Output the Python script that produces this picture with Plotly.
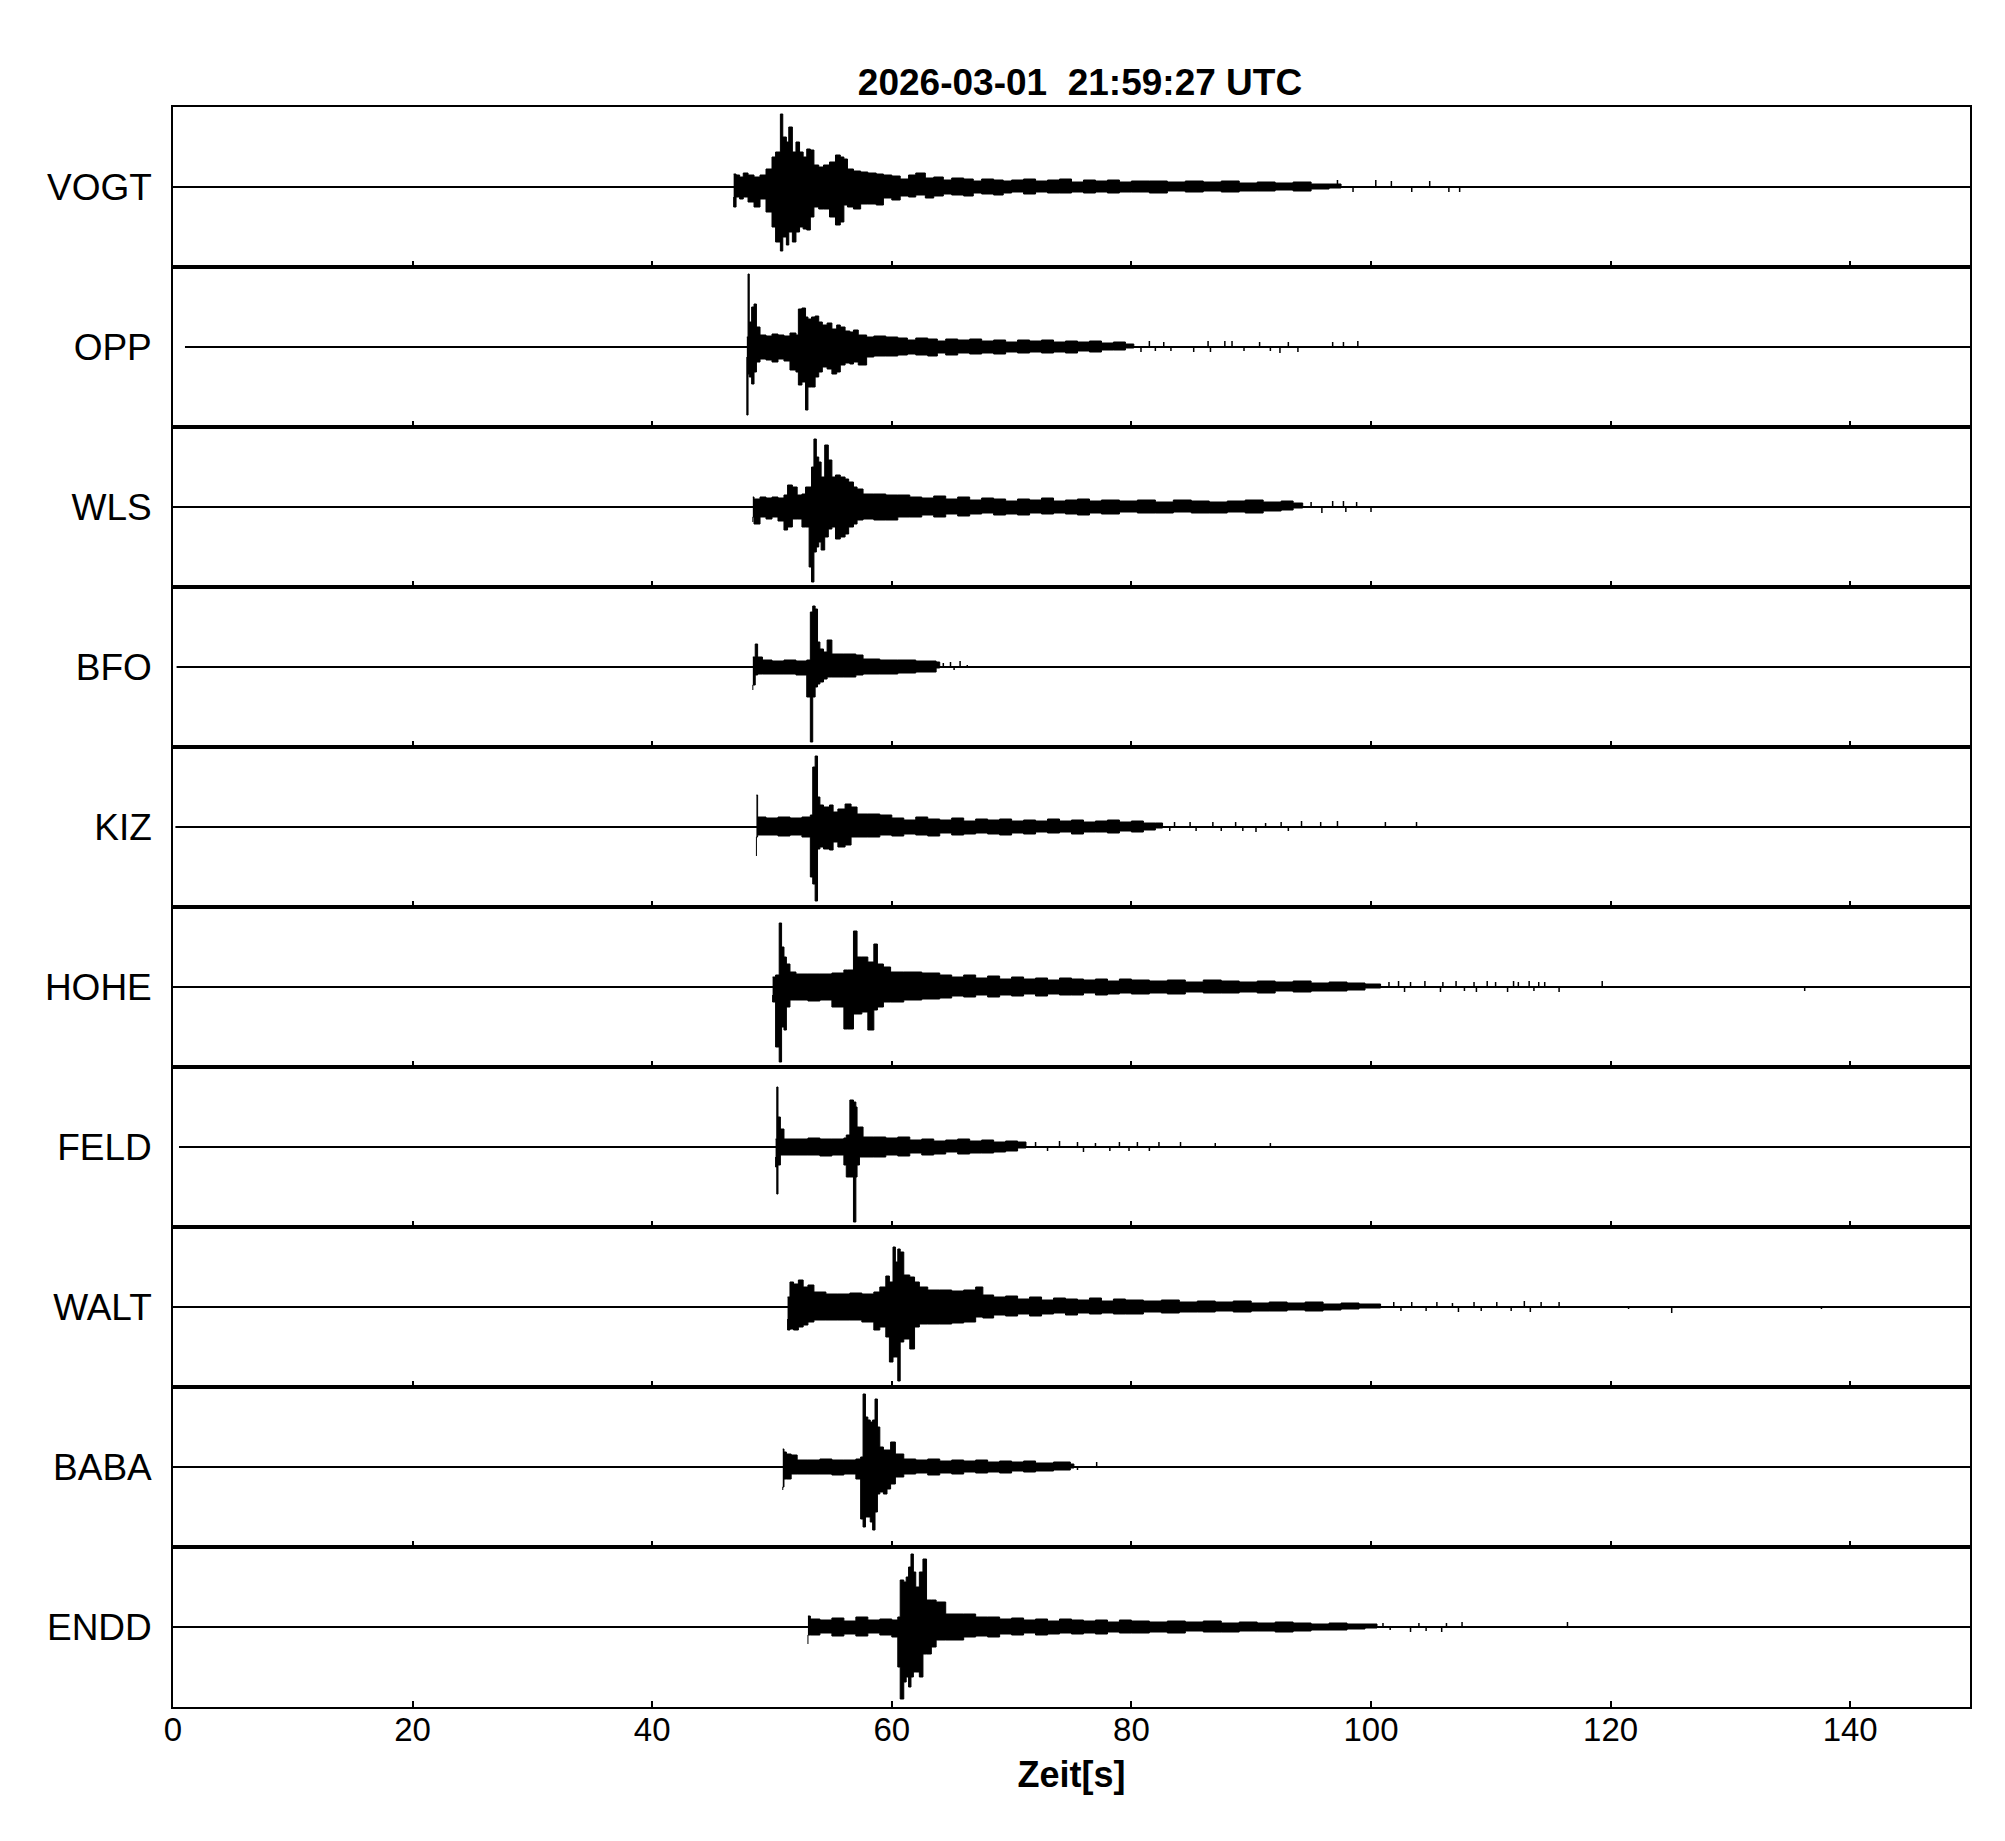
import plotly.graph_objects as go
from plotly.subplots import make_subplots

# ---------------- data (amplitudes in plot units, panel range is -80..80) -------------
STATIONS = ["VOGT", "OPP", "WLS", "BFO", "KIZ", "HOHE", "FELD", "WALT", "BABA", "ENDD"]
TRACE_START = [0.0, 1.0, 0.0, 0.3, 0.2, 0.0, 0.5, 0.0, 0.0, 0.0]
TRACE_END = 150.0
X_TICKS = [0, 20, 40, 60, 80, 100, 120, 140]
TITLE = "2026-03-01\u00a0\u00a021:59:27 UTC"
X_TITLE = "Zeit[s]"

VOGT_T = [46.8, 47.0, 47.3, 47.6, 48.0, 48.5, 49.0, 49.5, 50.0, 50.3, 50.7, 50.9, 51.2, 51.4, 51.7, 52.0, 52.3, 52.6, 52.9, 53.2,
          53.5, 53.9, 54.3, 54.8, 55.3, 55.7, 56.0, 56.3, 56.8, 57.4, 58.0, 58.7, 59.3,
          60.0, 60.7, 61.4, 62.0, 62.8, 63.5, 64.3, 65.0, 66.0, 66.8, 67.5, 68.5, 69.3, 70.0, 71.0, 72.0, 73.0, 74.0, 75.0, 76.0,
          77.0, 78.0, 79.0, 80.0, 81.5, 83.0, 84.5, 86.0, 87.5, 89.0, 90.5, 92.0, 93.5, 95.0, 96.5, 97.5]
VOGT_UP = [13, 12, 10, 14, 12, 10, 12, 18, 30, 35, 73, 50, 45, 60, 35, 45, 35, 30, 38, 37,
           22, 20, 22, 25, 32, 30, 28, 18, 16, 15, 14, 13, 12,
           11, 8, 12, 14, 9, 10, 7, 9, 8, 6, 8, 7, 6, 7, 8, 6, 7, 8, 5, 7,
           6, 7, 5, 6, 6, 5, 6, 5, 6, 4, 5, 4, 5, 3, 3, 1]
VOGT_LO = [10, 20, 10, 12, 10, 15, 20, 12, 25, 40, 55, 64, 50, 58, 45, 55, 45, 40, 42, 43,
           30, 20, 22, 22, 30, 38, 35, 18, 20, 22, 17, 17, 18,
           11, 13, 9, 10, 8, 11, 9, 7, 8, 9, 6, 7, 8, 6, 5, 7, 5, 6, 6, 5,
           6, 5, 6, 5, 5, 6, 4, 5, 4, 5, 4, 4, 3, 4, 2, 1]
VOGT_SPK_T = [97.2, 98.5, 100.4, 101.7, 103.4, 104.9, 106.5, 107.4]
VOGT_SPK_A = [7, -5, 7, 6, -5, 6, -5, -5]

OPP_T = [47.9, 48.0, 48.1, 48.3, 48.5, 48.7, 49.0, 49.5, 50.0, 50.5, 51.0, 51.5, 52.0, 52.2, 52.5, 52.8, 53.0, 53.3, 53.6, 53.9,
         54.2, 54.6, 55.0, 55.4, 55.7, 56.1, 56.5, 56.8, 57.2, 57.9, 58.5, 59.5,
         60.5, 61.3, 62.0, 63.0, 63.8, 64.5, 65.5, 66.5, 67.5, 68.5, 69.5, 70.5, 71.5, 72.5, 73.5, 74.5, 75.5, 76.5, 77.5, 78.5,
         79.5, 80.2]
OPP_UP = [10, 73, 25, 40, 43, 20, 12, 11, 13, 12, 11, 14, 12, 38, 39, 30, 28, 30, 31, 25,
          22, 24, 18, 22, 20, 16, 15, 17, 12, 10, 11, 10,
          9, 7, 9, 8, 6, 8, 7, 8, 6, 7, 5, 7, 6, 7, 5, 6, 5, 6, 4, 5, 3, 1]
OPP_LO = [10, 68, 27, 30, 37, 25, 15, 12, 13, 15, 12, 14, 23, 25, 38, 35, 63, 40, 40, 30,
          25, 20, 22, 27, 25, 18, 16, 17, 15, 18, 10, 9,
          9, 8, 7, 8, 9, 6, 8, 6, 7, 6, 7, 5, 6, 5, 6, 5, 6, 4, 5, 3, 3, 1]
OPP_SPK_T = [80.8, 81.5, 82.0, 82.7, 83.3, 85.2, 86.4, 86.6, 87.8, 88.4, 89.4, 90.7, 91.6, 92.4, 93.1, 93.9, 96.8, 97.7, 98.9]
OPP_SPK_A = [-5, 6, -4, 5, -4, -5, 6, -5, 6, 6, -4, 5, -4, -6, 5, -5, 5, 5, 6]

WLS_T = [48.4, 48.5, 49.0, 49.5, 50.0, 50.5, 51.0, 51.3, 51.7, 52.1, 52.5, 52.8, 53.1, 53.3, 53.5, 53.7, 53.9, 54.1, 54.4, 54.7,
         55.0, 55.3, 55.7, 56.1, 56.4, 56.8, 57.1, 57.6, 58.5, 59.5, 60.5, 61.5,
         62.5, 63.5, 64.5, 65.5, 66.5, 67.5, 68.5, 69.5, 70.5, 71.5, 72.5, 73.5, 74.5, 75.5, 76.5, 77.5, 79.0, 80.5, 82.0, 83.5,
         85.0, 86.5, 88.0, 89.5, 91.0, 92.5, 93.5, 94.3]
WLS_UP = [10, 8, 10, 9, 10, 9, 12, 22, 20, 12, 13, 20, 20, 40, 68, 50, 45, 30, 62, 47,
          30, 32, 30, 28, 25, 20, 18, 13, 13, 12, 12, 10,
          9, 11, 8, 10, 7, 9, 8, 6, 8, 7, 9, 6, 7, 8, 6, 7, 6, 7, 5, 7, 6, 5, 6, 7, 5, 6, 4, 1]
WLS_LO = [15, 10, 17, 10, 12, 10, 14, 23, 20, 12, 12, 20, 20, 60, 75, 45, 40, 35, 43, 30,
          22, 20, 32, 30, 27, 20, 17, 13, 12, 13, 13, 10,
          10, 8, 10, 7, 9, 7, 6, 8, 7, 8, 6, 7, 6, 7, 8, 6, 7, 5, 6, 6, 5, 6, 6, 5, 6, 4, 3, 1]
WLS_SPK_T = [95.0, 95.9, 96.8, 97.7, 97.9, 98.8, 100.0]
WLS_SPK_A = [5, -6, 6, 6, -5, 5, -5]

BFO_T = [48.4, 48.6, 48.8, 49.2, 50.0, 51.0, 52.0, 52.9, 53.2, 53.4, 53.6, 53.8, 54.0, 54.3, 54.6, 55.0, 56.0, 57.0, 57.6, 59.0,
         60.5, 62.0, 63.7, 64.0]
BFO_UP = [10, 23, 10, 7, 6, 7, 6, 7, 55, 61, 58, 25, 18, 15, 27, 13, 13, 12, 8, 7, 7, 6, 5, 1]
BFO_LO = [23, 18, 8, 7, 7, 7, 7, 8, 30, 75, 30, 20, 17, 15, 12, 10, 10, 10, 8, 7, 7, 6, 5, 1]
BFO_SPK_T = [64.3, 64.9, 65.2, 65.7, 66.3]
BFO_SPK_A = [4, 5, -3, 6, 2]

KIZ_T = [48.7, 48.8, 49.0, 49.5, 50.5, 51.5, 52.5, 53.2, 53.4, 53.6, 53.8, 54.0, 54.3, 54.8, 55.1, 55.5, 56.1, 56.6, 57.1, 58.0,
         59.0, 60.0, 61.0, 62.0, 63.0, 64.0, 65.0, 66.0, 67.0, 68.0, 69.0, 70.0, 71.0, 72.0, 73.0, 74.0, 75.0, 76.0, 77.0,
         78.0, 79.0, 80.0, 81.0, 82.0, 82.6]
KIZ_UP = [32, 10, 10, 9, 10, 9, 10, 12, 60, 71, 30, 22, 20, 22, 15, 18, 23, 20, 13, 13,
          12, 9, 7, 10, 8, 7, 9, 6, 8, 7, 8, 6, 7, 6, 8, 6, 7, 5, 6, 7, 5, 6, 4, 4, 1]
KIZ_LO = [29, 10, 8, 8, 8, 9, 8, 10, 50, 57, 74, 22, 20, 22, 23, 15, 20, 18, 10, 10,
          10, 8, 9, 7, 8, 9, 6, 8, 7, 6, 7, 8, 6, 7, 5, 6, 5, 7, 5, 5, 6, 4, 5, 3, 1]
KIZ_SPK_T = [83.2, 83.6, 84.9, 85.4, 86.8, 87.5, 88.7, 89.3, 90.4, 91.2, 92.5, 93.1, 94.2, 95.8, 97.2, 101.2, 103.8]
KIZ_SPK_A = [-4, 5, 5, -4, 5, -4, 5, -4, -5, 4, 5, -4, 6, 5, 6, 5, 5]

HOHE_T = [50.05, 50.3, 50.6, 50.8, 51.0, 51.2, 51.5, 52.0, 53.0, 54.0, 55.0, 56.0, 56.3, 56.8, 57.1, 57.5, 58.0, 58.5, 58.8, 59.3,
          59.9, 61.0, 62.5, 64.0,
          65.0, 66.0, 67.0, 68.0, 69.0, 70.0, 71.0, 72.0, 73.0, 74.0, 75.0, 76.0, 77.0, 78.0, 79.0, 80.0, 81.5, 83.0, 84.5,
          86.0, 87.5, 89.0, 90.5, 92.0, 93.5, 95.0, 96.5, 98.0, 99.5, 100.8]
HOHE_UP = [10, 12, 64, 40, 30, 23, 15, 13, 13, 13, 14, 17, 17, 56, 30, 30, 25, 43, 23, 20,
           15, 15, 14, 12,
           10, 12, 9, 11, 8, 10, 8, 9, 7, 9, 8, 7, 8, 6, 8, 7, 6, 7, 5, 7, 6, 5, 6, 5, 6, 4, 5, 4, 3, 1]
HOHE_LO = [8, 15, 60, 75, 40, 43, 20, 13, 13, 14, 13, 20, 42, 42, 27, 27, 25, 43, 23, 20,
           15, 15, 13, 12,
           11, 9, 10, 8, 10, 8, 9, 7, 9, 7, 8, 8, 6, 8, 7, 6, 7, 6, 7, 5, 6, 6, 5, 6, 4, 5, 4, 4, 3, 1]
HOHE_SPK_T = [101.5, 102.3, 102.8, 103.3, 104.5, 105.8, 106.0, 107.1, 107.8, 108.6, 108.8, 109.7, 110.4, 111.4, 111.9,
              112.3, 113.2, 113.6, 114.0, 114.5, 115.7, 119.3, 136.2]
HOHE_SPK_A = [5, 6, -5, 5, 6, -5, 5, 6, -4, 5, -5, 6, 5, -5, 6, 5, 6, -4, 5, 5, -5, 6, -4]

FELD_T = [50.3, 50.4, 50.5, 50.7, 51.0, 52.0, 53.0, 54.0, 55.0, 56.0, 56.2, 56.5, 56.8, 57.0, 57.1, 57.3, 57.6, 58.5,
          59.5, 60.5, 61.5, 62.5, 63.5, 64.5, 65.5, 66.5, 67.5, 68.5, 69.5, 70.5, 71.2]
FELD_UP = [8, 60, 30, 18, 8, 8, 9, 8, 8, 9, 12, 47, 45, 40, 20, 20, 10, 10,
           9, 10, 7, 8, 6, 7, 8, 6, 7, 5, 6, 5, 1]
FELD_LO = [10, 20, 47, 18, 8, 8, 8, 8, 9, 8, 18, 30, 30, 75, 30, 18, 10, 10,
           10, 8, 9, 6, 8, 7, 5, 7, 6, 6, 5, 4, 1]
FELD_SPK_T = [72.0, 73.0, 74.0, 75.5, 76.0, 77.0, 78.2, 79.0, 79.8, 80.5, 81.5, 82.3, 84.1, 87.0, 91.6]
FELD_SPK_A = [5, -4, 6, 5, -5, 4, -4, 5, -4, 5, -4, 5, 5, 4, 4]

WALT_T = [51.3, 51.5, 51.8, 52.2, 52.6, 53.0, 53.5, 54.5, 55.5, 56.5, 57.5, 58.5, 59.0, 59.5, 59.8, 60.1, 60.3, 60.5, 60.7, 61.0,
          61.5, 61.9, 62.3, 63.0, 64.0, 65.0, 66.0, 67.0,
          67.6, 68.5, 69.5, 70.5, 71.5, 72.5, 73.5, 74.5, 75.5, 76.5, 77.5, 78.5, 79.5, 81.0, 82.5, 84.0, 85.5, 87.0, 88.5,
          90.0, 91.5, 93.0, 94.5, 96.0, 97.5, 99.0, 100.8]
WALT_UP = [10, 25, 23, 27, 20, 22, 15, 13, 13, 14, 13, 15, 20, 31, 25, 60, 45, 58, 55, 32,
           30, 25, 20, 17, 17, 16, 17, 20,
           12, 10, 11, 8, 10, 7, 9, 8, 7, 9, 6, 8, 7, 6, 7, 5, 6, 5, 6, 4, 5, 4, 5, 3, 4, 3, 1]
WALT_LO = [12, 23, 22, 23, 20, 18, 15, 13, 13, 13, 13, 15, 23, 20, 30, 55, 50, 50, 74, 35,
           32, 42, 20, 17, 17, 17, 16, 15,
           10, 11, 8, 9, 7, 9, 7, 6, 8, 6, 7, 6, 7, 7, 5, 6, 5, 5, 4, 5, 4, 4, 3, 4, 3, 2, 1]
WALT_SPK_T = [101.9, 102.5, 103.4, 104.6, 105.5, 106.8, 107.3, 108.6, 109.2, 110.5, 111.7, 112.8, 113.3, 114.2, 115.7,
              121.5, 125.1, 137.6]
WALT_SPK_A = [5, -4, 5, -4, 5, 4, -5, 5, -4, 5, -4, 6, -5, 5, 5, -2, -6, -2]

BABA_T = [50.9, 51.0, 51.2, 51.6, 52.1, 53.0, 54.0, 55.0, 56.0, 57.0, 57.4, 57.6, 57.8, 58.0, 58.2, 58.4, 58.6, 58.8, 59.0, 59.3,
          59.6, 59.9, 60.3, 61.0, 62.0, 63.0, 64.0, 65.0, 66.0, 67.0, 68.0, 69.0, 70.0, 71.0, 72.0, 73.5, 74.9, 75.2]
BABA_UP = [18, 15, 13, 12, 7, 7, 8, 7, 7, 8, 10, 73, 50, 47, 45, 47, 68, 40, 20, 17,
           17, 25, 13, 8, 7, 8, 6, 7, 6, 7, 5, 6, 5, 6, 4, 5, 3, 1]
BABA_LO = [23, 20, 12, 12, 7, 7, 7, 7, 8, 7, 12, 52, 60, 50, 50, 55, 63, 45, 27, 25,
           27, 22, 17, 10, 7, 6, 8, 6, 7, 5, 6, 5, 6, 4, 5, 4, 3, 1]
BABA_SPK_T = [75.5, 77.1]
BABA_SPK_A = [-3, 5]

ENDD_T = [53.0, 53.2, 54.0, 55.0, 56.0, 57.0, 58.0, 59.0, 60.0, 60.5, 60.7, 61.0, 61.2, 61.4, 61.6, 61.8, 62.0, 62.3, 62.6, 62.9,
          63.3, 63.7, 64.5, 66.0, 67.0,
          68.0, 69.0, 70.0, 71.0, 72.0, 73.0, 74.0, 75.0, 76.0, 77.0, 78.0, 79.0, 80.0, 81.5, 83.0, 84.5, 86.0, 87.5, 89.0,
          90.5, 92.0, 93.5, 95.0, 96.5, 98.0, 99.5, 100.5]
ENDD_UP = [11, 8, 7, 9, 6, 10, 7, 8, 7, 10, 47, 45, 50, 60, 73, 55, 40, 55, 68, 27,
           27, 25, 13, 13, 10,
           10, 8, 9, 7, 8, 6, 8, 7, 6, 7, 5, 7, 6, 5, 6, 5, 6, 4, 5, 4, 5, 4, 3, 4, 3, 3, 1]
ENDD_LO = [17, 8, 8, 6, 9, 7, 9, 6, 8, 10, 40, 72, 55, 50, 60, 50, 45, 45, 50, 27,
           27, 20, 13, 13, 10,
           9, 10, 7, 8, 6, 8, 7, 6, 7, 6, 7, 5, 6, 6, 5, 6, 4, 5, 5, 4, 4, 5, 4, 3, 3, 2, 1]
ENDD_SPK_T = [101.0, 101.6, 103.3, 104.0, 104.6, 105.9, 106.3, 107.6, 116.4]
ENDD_SPK_A = [4, -3, -5, 4, -4, -5, 4, 5, 5]

TRACES = {
    "VOGT": (VOGT_T, VOGT_UP, VOGT_LO, VOGT_SPK_T, VOGT_SPK_A),
    "OPP": (OPP_T, OPP_UP, OPP_LO, OPP_SPK_T, OPP_SPK_A),
    "WLS": (WLS_T, WLS_UP, WLS_LO, WLS_SPK_T, WLS_SPK_A),
    "BFO": (BFO_T, BFO_UP, BFO_LO, BFO_SPK_T, BFO_SPK_A),
    "KIZ": (KIZ_T, KIZ_UP, KIZ_LO, KIZ_SPK_T, KIZ_SPK_A),
    "HOHE": (HOHE_T, HOHE_UP, HOHE_LO, HOHE_SPK_T, HOHE_SPK_A),
    "FELD": (FELD_T, FELD_UP, FELD_LO, FELD_SPK_T, FELD_SPK_A),
    "WALT": (WALT_T, WALT_UP, WALT_LO, WALT_SPK_T, WALT_SPK_A),
    "BABA": (BABA_T, BABA_UP, BABA_LO, BABA_SPK_T, BABA_SPK_A),
    "ENDD": (ENDD_T, ENDD_UP, ENDD_LO, ENDD_SPK_T, ENDD_SPK_A),
}

FONT = "Liberation Sans, Arial, Helvetica, sans-serif"

# ---------------- figure -------------
n = len(STATIONS)
fig = make_subplots(rows=n, cols=1, shared_xaxes=True, vertical_spacing=0)

for i, name in enumerate(STATIONS):
    r = i + 1
    t, up, lo, st, sa = TRACES[name]
    # baseline of the trace
    fig.add_trace(go.Scatter(x=[TRACE_START[i], TRACE_END], y=[0, 0], mode="lines",
                             line=dict(color="black", width=1.8), hoverinfo="skip"), row=r, col=1)
    # envelope of the waveform (upper and lower peak amplitudes), drawn as vertical steps
    pairs = list(zip(t, up, lo))
    px = [p[0] for p in pairs] + [p[0] for p in pairs[::-1]]
    py = [p[1] for p in pairs] + [-p[2] for p in pairs[::-1]]
    fig.add_trace(go.Scatter(x=px, y=py, mode="lines", fill="toself", fillcolor="black",
                             line=dict(color="black", width=1.0, shape="hv"), hoverinfo="skip"), row=r, col=1)
    # isolated late spikes
    sx, sy = [], []
    for tt, aa in zip(st, sa):
        sx += [tt, tt, None]
        sy += [0, aa, None]
    fig.add_trace(go.Scatter(x=sx, y=sy, mode="lines", line=dict(color="black", width=1.5),
                             hoverinfo="skip"), row=r, col=1)

    fig.update_yaxes(range=[-80, 80], showgrid=False, zeroline=False, showline=True, mirror=True,
                     linecolor="black", linewidth=1.6, tickvals=[0], ticktext=[name], ticks="",
                     tickfont=dict(size=37, color="black", family=FONT), ticklabelstandoff=12,
                     fixedrange=True, row=r, col=1)
    fig.update_xaxes(range=[0, 150], showgrid=False, zeroline=False, showline=True, mirror=True,
                     linecolor="black", linewidth=1.6, tickvals=X_TICKS, ticks="inside", ticklen=6,
                     tickwidth=2, tickcolor="black", ticklabelstandoff=-7,
                     tickfont=dict(size=33, color="black", family=FONT), row=r, col=1)

fig.update_xaxes(title=dict(text="<b>" + X_TITLE + "</b>", font=dict(size=36, color="black", family=FONT),
                            standoff=14), row=n, col=1)

# the page body adds an 8 px offset, the sizes below compensate for it
W, H = 1989, 1825
fig.update_layout(
    width=W, height=H,
    margin=dict(l=165, r=27, t=99, b=126),
    paper_bgcolor="white", plot_bgcolor="white",
    showlegend=False,
    font=dict(family=FONT, color="black"),
    title=dict(text="<b>" + TITLE + "</b>", font=dict(size=37, color="black", family=FONT),
               x=1072 / W, xref="container", xanchor="center",
               y=1 - 74 / H, yref="container", yanchor="middle"),
)

fig.write_html("out.html")
